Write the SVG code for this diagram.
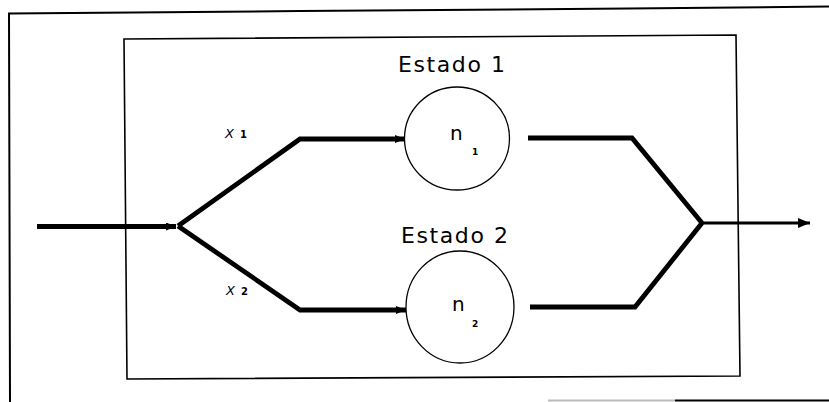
<svg xmlns="http://www.w3.org/2000/svg" width="829" height="402" viewBox="0 0 829 402">
<defs>
<style>
.frame{fill:none;stroke:#000;stroke-width:2}
.box{fill:none;stroke:#000;stroke-width:1.6}
.node{fill:#fff;stroke:#000;stroke-width:1.3}
.wire{fill:none;stroke:#000;stroke-width:4.8;stroke-linejoin:miter;stroke-linecap:butt}
.thin{fill:none;stroke:#000;stroke-width:3.2}
.lbl{font-family:"DejaVu Sans","Liberation Sans",sans-serif;font-size:22px;fill:#000;letter-spacing:1.6px}
.var{font-family:"DejaVu Sans","Liberation Sans",sans-serif;font-size:20px;fill:#000}
.sub{font-family:"DejaVu Sans","Liberation Sans",sans-serif;font-size:9px;font-weight:bold;fill:#000}
.x{font-family:"DejaVu Sans","Liberation Sans",sans-serif;font-size:13px;font-style:italic;fill:#000}
.xs{font-family:"DejaVu Sans","Liberation Sans",sans-serif;font-size:10px;font-weight:bold;fill:#000}
</style>
<marker id="ah" viewBox="0 0 10 8" refX="10" refY="4" markerWidth="10" markerHeight="8" markerUnits="userSpaceOnUse" orient="auto">
<path d="M0,0 L10,4 L0,8 Z" fill="#000"/>
</marker>
<marker id="ahbig" viewBox="0 0 12 10" refX="12" refY="5" markerWidth="12" markerHeight="10" markerUnits="userSpaceOnUse" orient="auto">
<path d="M0,0 L12,5 L0,10 Z" fill="#000"/>
</marker>
</defs>
<rect width="829" height="402" fill="#fff"/>
<g id="frame">
<path d="M548,400.5 L675,400.5" fill="none" stroke="#bbb" stroke-width="2"/>
<path class="frame" d="M675,400.5 L829,400.5"/>
<path class="frame" d="M10,402 L9,13.5 L300,11 L629,8.5 L829,6.5"/>
</g>
<g id="system">
<polygon class="box" points="124,39 736,35 740,376 127,379"/>
</g>
<g id="connectors">
<path class="wire" d="M37,226.5 L176,226.5" marker-end="url(#ah)"/>
<path class="wire" d="M178,226 L300,139 L405,139" marker-end="url(#ah)"/>
<path class="wire" d="M178,226 L300,310 L406,310" marker-end="url(#ah)"/>
<path class="wire" d="M528,138 L632,138 L702,223"/>
<path class="wire" d="M530,307 L635,307 L702,223"/>
<path class="thin" d="M702,223 L810,223" marker-end="url(#ahbig)"/>
</g>
<g id="estado1">
<text class="lbl" x="398" y="72">Estado 1</text>
<ellipse class="node" cx="457" cy="138.5" rx="52.5" ry="51.5"/>
<text class="var" x="450" y="140">n</text>
<text class="sub" x="472" y="155">1</text>
</g>
<g id="estado2">
<text class="lbl" x="401" y="243">Estado 2</text>
<ellipse class="node" cx="460" cy="307" rx="54" ry="56"/>
<text class="var" x="452" y="311">n</text>
<text class="sub" x="472" y="327">2</text>
</g>
<g id="labels">
<text x="225" y="138"><tspan class="x">X</tspan><tspan class="xs" dx="6">1</tspan></text>
<text x="226" y="295"><tspan class="x">X</tspan><tspan class="xs" dx="6">2</tspan></text>
</g>
</svg>
